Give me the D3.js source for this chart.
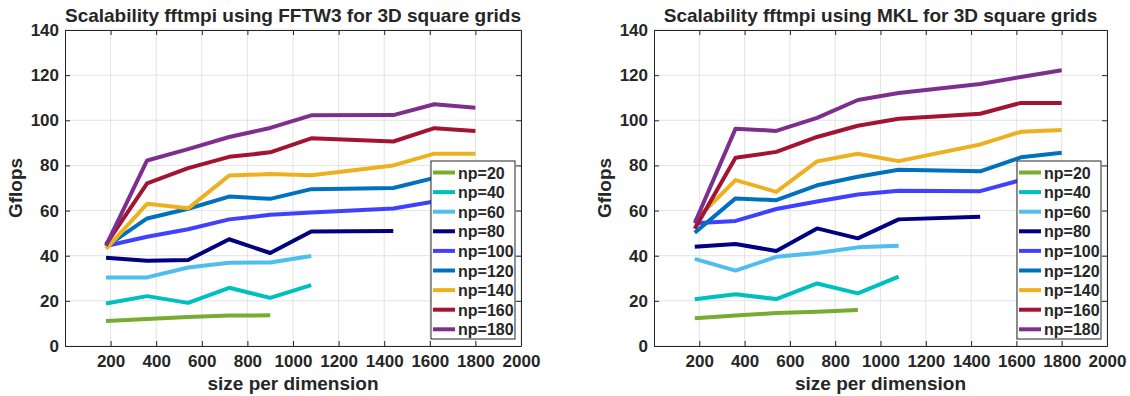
<!DOCTYPE html>
<html>
<head>
<meta charset="utf-8">
<script src="https://cdn.jsdelivr.net/npm/d3@7"></script>
<style>
  body { margin: 0; background: #fff; }
  svg text { font-family: "Liberation Sans", Arial, sans-serif; font-weight: bold; fill: #262626; }
</style>
</head>
<body>
<svg id="chart" width="1130" height="396"></svg>
<script>
// problem sizes (x) and process counts
const sizes = [180, 360, 540, 720, 900, 1080, 1440, 1620, 1800];
const procLabels = ["np=20", "np=40", "np=60", "np=80", "np=100", "np=120", "np=140", "np=160", "np=180"];
const procColors = ["#77ac30", "#00bfbf", "#4dbeee", "#000080", "#4040ff", "#0072bd", "#edb120", "#a2142f", "#7e2f8e"];
const xTicks = [200, 400, 600, 800, 1000, 1200, 1400, 1600, 1800, 2000];
const yTicks = [0, 20, 40, 60, 80, 100, 120, 140];

// Gflops, one row per np (shorter rows stop early)
const fftw3Gflops = [
  [11.1, 12.0, 12.9, 13.5, 13.6],
  [18.8, 22.1, 19.1, 25.8, 21.3, 27.0],
  [30.4, 30.4, 34.8, 36.9, 37.0, 39.9],
  [39.1, 37.8, 38.1, 47.3, 41.2, 50.7, 51.0],
  [44.3, 48.4, 51.7, 56.1, 58.1, 59.1, 60.9, 64.0, 66.0],
  [44.0, 56.5, 60.8, 66.2, 65.2, 69.5, 70.0, 74.5, 76.0],
  [43.0, 63.0, 61.0, 75.5, 76.2, 75.6, 80.0, 85.2, 85.2],
  [45.0, 72.0, 78.8, 83.8, 85.8, 92.0, 90.6, 96.5, 95.3],
  [44.5, 82.2, 87.2, 92.6, 96.6, 102.2, 102.3, 107.1, 105.6]
];
const mklGflops = [
  [12.3, 13.5, 14.6, 15.2, 15.9],
  [20.7, 22.9, 20.8, 27.7, 23.3, 30.7],
  [38.6, 33.4, 39.5, 41.2, 43.7, 44.4],
  [44.0, 45.2, 42.1, 52.1, 47.7, 56.1, 57.3],
  [54.4, 55.4, 60.7, 64.0, 67.1, 68.8, 68.6, 73.5, 76.0],
  [50.2, 65.4, 64.6, 71.2, 75.0, 78.1, 77.4, 83.6, 85.6],
  [55.5, 73.5, 68.3, 81.8, 85.2, 81.9, 89.3, 94.9, 95.7],
  [52.0, 83.4, 86.0, 92.6, 97.6, 100.7, 102.9, 107.7, 107.7],
  [54.5, 96.3, 95.3, 101.1, 109.0, 112.1, 116.1, 119.2, 122.2]
];

const svg = d3.select("#chart");
const ink = "#262626";

function drawPanel(box, title, values) {
  const x = d3.scaleLinear().domain([0, 2000]).range([box.left, box.right]);
  const y = d3.scaleLinear().domain([0, 140]).range([box.bottom, box.top]);
  const g = svg.append("g");

  // grid
  g.append("g").selectAll("line").data(xTicks).join("line")
    .attr("x1", d => x(d)).attr("x2", d => x(d))
    .attr("y1", box.top).attr("y2", box.bottom)
    .attr("stroke", "#e3e3e3").attr("stroke-width", 1);
  g.append("g").selectAll("line").data(yTicks).join("line")
    .attr("x1", box.left).attr("x2", box.right)
    .attr("y1", d => y(d)).attr("y2", d => y(d))
    .attr("stroke", "#e3e3e3").attr("stroke-width", 1);

  // series
  const line = d3.line().x((d, i) => x(sizes[i])).y(d => y(d));
  values.forEach((row, k) => {
    g.append("path").datum(row)
      .attr("d", line)
      .attr("fill", "none")
      .attr("stroke", procColors[k])
      .attr("stroke-width", 4)
      .attr("stroke-linejoin", "round");
  });

  // axes, ticks pointing inward on all four sides
  const fmt = d3.format("d");
  g.append("g").attr("transform", `translate(0,${box.bottom})`)
    .call(d3.axisBottom(x).tickValues(xTicks).tickFormat(fmt).tickSizeInner(-5).tickSizeOuter(0).tickPadding(9));
  g.append("g").attr("transform", `translate(${box.left},0)`)
    .call(d3.axisLeft(y).tickValues(yTicks).tickFormat(fmt).tickSizeInner(-5).tickSizeOuter(0).tickPadding(6));
  g.append("g").attr("transform", `translate(0,${box.top})`)
    .call(d3.axisTop(x).tickValues(xTicks).tickSizeInner(-5).tickSizeOuter(0).tickFormat(""));
  g.append("g").attr("transform", `translate(${box.right},0)`)
    .call(d3.axisRight(y).tickValues(yTicks).tickSizeInner(-5).tickSizeOuter(0).tickFormat(""));
  g.selectAll(".domain").attr("stroke", ink);
  g.selectAll(".tick line").attr("stroke", ink);
  g.selectAll(".tick text").attr("font-size", 17).style("fill", ink)
    .attr("font-family", "Liberation Sans, Arial, sans-serif").attr("font-weight", "bold");

  // titles
  const cx = (box.left + box.right) / 2;
  g.append("text").attr("x", cx).attr("y", 22).attr("text-anchor", "middle")
    .attr("font-size", 19).text(title);
  g.append("text").attr("x", cx).attr("y", 390).attr("text-anchor", "middle")
    .attr("font-size", 19).text("size per dimension");
  g.append("text")
    .attr("transform", `translate(${box.left - 43},${(box.top + box.bottom) / 2}) rotate(-90)`)
    .attr("text-anchor", "middle").attr("font-size", 19).text("Gflops");

  // legend
  const lg = g.append("g").attr("transform", `translate(${box.right - 90},${box.top + 131})`);
  lg.append("rect").attr("x", 0).attr("y", 0).attr("width", 84).attr("height", 178)
    .attr("fill", "#fff").attr("stroke", ink).attr("stroke-width", 1);
  procLabels.forEach((lab, k) => {
    const yy = 11.5 + k * 19.6;
    lg.append("line").attr("x1", 2).attr("x2", 24).attr("y1", yy).attr("y2", yy)
      .attr("stroke", procColors[k]).attr("stroke-width", 4);
    lg.append("text").attr("x", 27).attr("y", yy + 6).attr("font-size", 16).text(lab);
  });
}

drawPanel({left: 65, right: 521, top: 30, bottom: 346},
  "Scalability fftmpi using FFTW3 for 3D square grids", fftw3Gflops);
drawPanel({left: 654, right: 1107, top: 30, bottom: 346},
  "Scalability fftmpi using MKL for 3D square grids", mklGflops);
</script>
</body>
</html>
